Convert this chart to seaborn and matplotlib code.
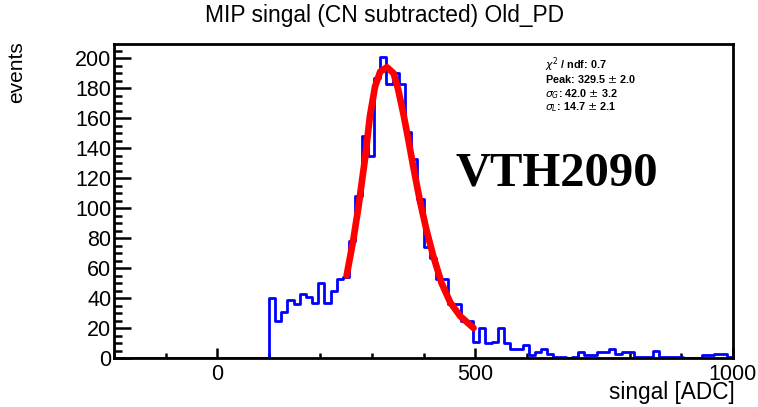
import numpy as np
import pandas as pd
import matplotlib
matplotlib.use("Agg")
import matplotlib.pyplot as plt
import seaborn as sns
from matplotlib.ticker import MultipleLocator, FixedLocator

# ---------------- data ----------------
bin_width = 12
x_range = (-200, 1000)
# counts for bins of 12 ADC starting at -200 (first 25 bins empty)
counts_low = [0] * 25
counts_signal = [40, 25, 31, 39, 36, 43, 41, 37, 50, 37,
                 45, 53, 54, 78, 108, 148, 135, 187, 201, 183,
                 190, 183, 151, 133, 106, 74, 67, 53, 53, 36,
                 36, 25, 25, 11, 20, 10, 11, 20, 10, 6,
                 6, 9, 2, 4, 6, 3, 1, 1, 0, 1,
                 4, 2, 2, 4, 4, 6, 3, 4, 4, 1,
                 1, 1, 5, 1, 1, 1, 1, 0, 0, 0,
                 2, 2, 3, 3, 1]
fit_x = [251, 264, 274, 287, 296, 306, 316, 329, 342, 351,
         361, 371, 380, 393, 406, 419, 435, 452, 471, 497]
fit_y = [55, 79, 101, 134, 161, 181, 191, 194, 190, 179,
         163, 145, 128, 105, 85, 68, 50, 37, 28, 20]
x_ticks = [0, 500, 1000]
stats_lines = [r"$\chi^{2}$ / ndf: 0.7",
               r"Peak: 329.5 $\pm$ 2.0",
               r"$\sigma_{G}$: 42.0 $\pm$ 3.2",
               r"$\sigma_{L}$: 14.7 $\pm$ 2.1"]
title = "MIP singal (CN subtracted) Old_PD"
xlabel = "singal [ADC]"
ylabel = "events"
tag = "VTH2090"

# ---------------- plotting ----------------
sns.set_style("white")
plt.rcParams["font.family"] = ["Liberation Sans", "DejaVu Sans"]
plt.rcParams["text.color"] = "black"

counts = counts_low + counts_signal
edges = [float(e) for e in np.arange(x_range[0], x_range[1] + 1, bin_width)]
centers = [e + bin_width / 2.0 for e in edges[:-1]]
df = pd.DataFrame({"adc": centers, "events": counts})
fit_df = pd.DataFrame({"adc": fit_x, "val": fit_y})

W, H = 758, 407
fig = plt.figure(figsize=(W / 100, H / 100), dpi=100)
fig.patch.set_facecolor("white")
ax = fig.add_axes([114 / W, 1 - 358 / H, (733 - 114) / W, (358 - 44) / H])

sns.histplot(data=df, x="adc", weights="events", bins=edges, element="step",
             fill=False, color="#0000ff", linewidth=2.0, ax=ax)
sns.lineplot(data=fit_df, x="adc", y="val", sort=False, estimator=None,
             color="#ff0000", linewidth=4.8, ax=ax)

ax.set_xlim(*x_range)
ax.set_ylim(0, 209.5)
ax.xaxis.set_major_locator(FixedLocator(x_ticks))
ax.xaxis.set_minor_locator(MultipleLocator(100))
ax.yaxis.set_major_locator(MultipleLocator(20))
ax.yaxis.set_minor_locator(MultipleLocator(5))
ax.tick_params(which="both", direction="in", bottom=True, left=True,
               top=False, right=False,
               color="black", width=1.8, labelsize=15.5, labelcolor="black")
ax.tick_params(axis="y", which="major", length=12, pad=2)
ax.tick_params(axis="y", which="minor", length=6)
ax.tick_params(axis="x", which="major", length=7.5, pad=4)
ax.tick_params(axis="x", which="minor", length=3.7)
for s in ax.spines.values():
    s.set_visible(True)
    s.set_color("black")
    s.set_linewidth(2.0)
ax.set_xlabel("")
ax.set_ylabel("")

fig.text(385 / W, 1 - 22 / H, title, ha="center", va="baseline", fontsize=16.4, color="black")
fig.text(735 / W, 1 - 399 / H, xlabel, ha="right", va="baseline", fontsize=16.3, color="black")
fig.text(17 / W, 1 - 41 / H, ylabel, ha="center", va="top", rotation=90, fontsize=15, color="black")

ys = [69, 83, 97, 110]
for line, yy in zip(stats_lines, ys):
    fig.text(545 / W, 1 - yy / H, line, ha="left", va="baseline",
             fontsize=7.8, fontweight="bold", color="black")

fig.text(455 / W, 1 - 185 / H, tag, ha="left", va="baseline", color="black",
         fontsize=35, fontweight="bold", family=["Liberation Serif", "DejaVu Serif"])

fig.savefig("out.png", dpi=100, facecolor="white")
